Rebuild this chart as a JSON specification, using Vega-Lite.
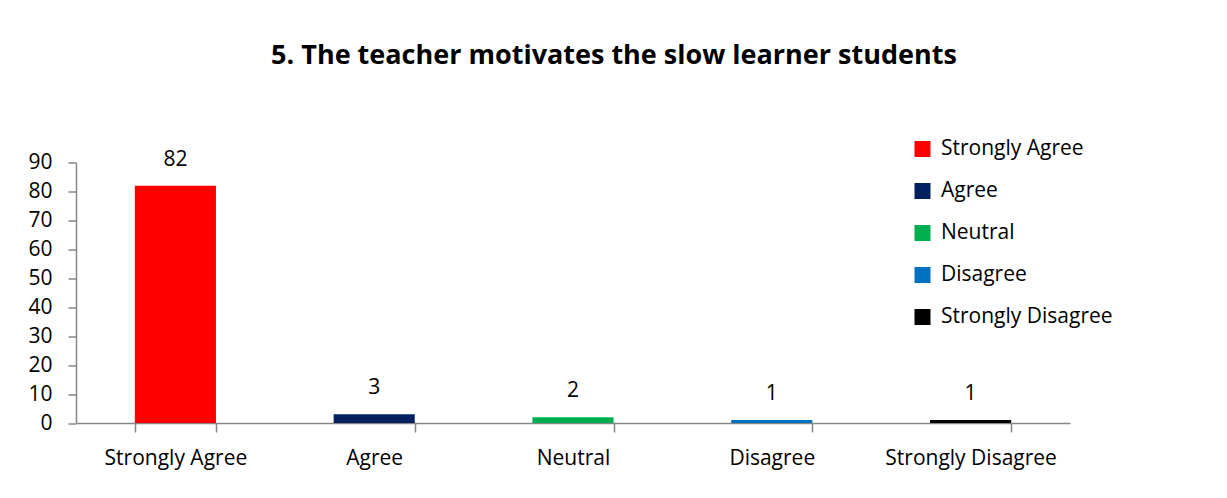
{
  "$schema": "https://vega.github.io/schema/vega-lite/v6.json",
  "width": 994,
  "height": 260.5,
  "autosize": {"type": "none"},
  "padding": {"left": 76, "top": 162.5, "right": 157, "bottom": 75},
  "background": "white",
  "config": {"font": "Open Sans", "view": {"stroke": null}},
  "title": {
    "text": "5. The teacher motivates the slow learner students",
    "fontSize": 27,
    "fontWeight": "bold",
    "font": "Open Sans",
    "color": "black",
    "anchor": "middle",
    "frame": "group",
    "dx": 41,
    "offset": 69
  },
  "data": {
    "values": [
      {"response": "Strongly Agree", "count": 82},
      {"response": "Agree", "count": 3},
      {"response": "Neutral", "count": 2},
      {"response": "Disagree", "count": 1},
      {"response": "Strongly Disagree", "count": 1}
    ]
  },
  "encoding": {
    "x": {
      "field": "response",
      "type": "nominal",
      "sort": null,
      "scale": {"paddingInner": 0.592, "paddingOuter": 0.296},
      "axis": {
        "title": null,
        "labelAngle": 0,
        "labelFontSize": 21,
        "labelColor": "black",
        "labelPadding": 15,
        "labelLimit": 0,
        "domainColor": "#868686",
        "domainWidth": 1.5,
        "tickColor": "#868686",
        "tickWidth": 1.5,
        "tickSize": 9,
        "tickBand": "extent"
      }
    },
    "y": {
      "field": "count",
      "type": "quantitative",
      "scale": {"domain": [0, 90], "nice": false},
      "axis": {
        "title": null,
        "values": [0, 10, 20, 30, 40, 50, 60, 70, 80, 90],
        "grid": false,
        "labelFontSize": 21,
        "labelColor": "black",
        "labelPadding": 16,
        "domainColor": "#868686",
        "domainWidth": 1.5,
        "tickColor": "#868686",
        "tickWidth": 1.5,
        "tickSize": 8
      }
    }
  },
  "layer": [
    {
      "mark": {"type": "bar"},
      "encoding": {
        "color": {
          "field": "response",
          "type": "nominal",
          "sort": null,
          "scale": {
            "domain": ["Strongly Agree", "Agree", "Neutral", "Disagree", "Strongly Disagree"],
            "range": ["#FF0000", "#002060", "#00B050", "#0070C0", "#000000"]
          },
          "legend": {
            "title": null,
            "orient": "none",
            "legendX": 836,
            "legendY": -24,
            "symbolType": "square",
            "symbolSize": 256,
            "symbolStrokeWidth": 0,
            "symbolOpacity": 1,
            "labelFontSize": 21,
            "labelColor": "black",
            "labelOffset": 8,
            "labelLimit": 0,
            "rowPadding": 20,
            "padding": 0
          }
        }
      }
    },
    {
      "mark": {"type": "text", "dy": -20, "baseline": "alphabetic", "fontSize": 21, "color": "black"},
      "encoding": {"text": {"field": "count", "type": "quantitative"}}
    }
  ]
}
